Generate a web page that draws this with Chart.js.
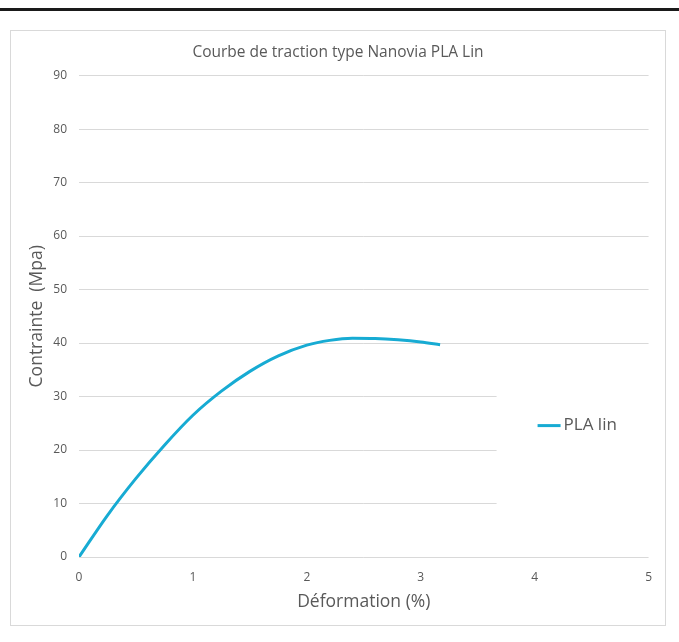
<!DOCTYPE html>
<html>
<head>
<meta charset="utf-8">
<script src="https://cdn.jsdelivr.net/npm/chart.js@4"></script>
<style>
  html, body { margin: 0; padding: 0; background: #fff; }
  body { width: 679px; height: 642px; position: relative; overflow: hidden; }
  .top-rule { position: absolute; left: 0; top: 8px; width: 679px; height: 3px; background: #1a1a1a; }
  .chart-frame { position: absolute; left: 10px; top: 30px; width: 656px; height: 596px; box-sizing: border-box; border: 1px solid #d9d9d9; }
  canvas { display: block; }
</style>
</head>
<body>
<div class="top-rule"></div>
<div class="chart-frame">
  <canvas id="tractionChart" width="654" height="594"></canvas>
</div>
<script>
// deformation (%) and stress (MPa)
const deformation = [0, 0.25, 0.5, 0.75, 1, 1.25, 1.5, 1.75, 2, 2.2, 2.4, 2.6, 2.8, 3.0, 3.17]
const contrainte = [0, 7.8, 14.7, 20.9, 26.5, 31.0, 34.7, 37.6, 39.6, 40.5, 40.9, 40.85, 40.6, 40.2, 39.7]
const seriesLabel = "PLA lin"
const chartTitle = "Courbe de traction type Nanovia PLA Lin"
const xAxisTitle = "Déformation (%)"
const yAxisTitle = "Contrainte  (Mpa)"
const lineColor = '#17abd3'
const textColor = '#595959'
const gridColor = '#d9d9d9'

const points = deformation.map((x, i) => ({x: x, y: contrainte[i]}))

// Excel-style legend sitting inside the plot, masking the grid behind it
const insideLegend = {
  id: 'insideLegend',
  beforeDatasetsDraw(chart) {
    const {ctx, chartArea, scales} = chart
    const y = scales.y
    ctx.save()
    ctx.fillStyle = '#fff'
    ctx.fillRect(chartArea.right - 152, y.getPixelForValue(35), 160, y.getPixelForValue(5) - y.getPixelForValue(35))
    ctx.restore()
  },
  afterDraw(chart) {
    const {ctx, chartArea} = chart
    const ds = chart.data.datasets[0]
    const lx = chartArea.right - 111
    const ly = chartArea.top + 350
    ctx.save()
    ctx.strokeStyle = ds.borderColor
    ctx.lineWidth = 3
    ctx.beginPath()
    ctx.moveTo(lx, ly)
    ctx.lineTo(lx + 23, ly)
    ctx.stroke()
    ctx.fillStyle = textColor
    ctx.font = '17px "Open Sans"'
    ctx.textBaseline = 'middle'
    ctx.fillText(ds.label, lx + 26, ly)
    ctx.restore()
  }
}

new Chart("tractionChart", {
  type: "line",
  data: {
    datasets: [{
      label: seriesLabel,
      data: points,
      borderColor: lineColor,
      backgroundColor: lineColor,
      borderWidth: 3,
      pointRadius: 0,
      cubicInterpolationMode: 'monotone',
      fill: false
    }]
  },
  options: {
    responsive: false,
    animation: false,
    layout: {padding: {left: 15, right: 15, top: 0, bottom: 0}},
    plugins: {
      legend: {display: false},
      tooltip: {enabled: false},
      title: {
        display: true,
        text: chartTitle,
        color: textColor,
        font: {family: "Open Sans", size: 15.5, weight: 'normal'},
        padding: {top: 12, bottom: 14}
      }
    },
    scales: {
      x: {
        type: 'linear',
        min: 0,
        max: 5,
        ticks: {stepSize: 1, color: textColor, font: {family: "Open Sans", size: 12}, padding: 13},
        grid: {display: false, drawTicks: false},
        border: {display: false},
        title: {display: true, text: xAxisTitle, color: textColor, font: {family: "Open Sans", size: 17.5}, padding: {top: 0, bottom: 12}},
        afterFit(scale) { scale.height = 68 }
      },
      y: {
        min: 0,
        max: 90,
        ticks: {stepSize: 10, color: textColor, font: {family: "Open Sans", size: 12}, padding: 12},
        grid: {color: gridColor, lineWidth: 1, drawTicks: false},
        border: {display: false},
        title: {display: true, text: yAxisTitle, color: textColor, font: {family: "Open Sans", size: 17.5}, padding: {top: 1, bottom: 0}},
        afterFit(scale) { scale.width = 53 }
      }
    }
  },
  plugins: [insideLegend]
});
</script>
</body>
</html>
